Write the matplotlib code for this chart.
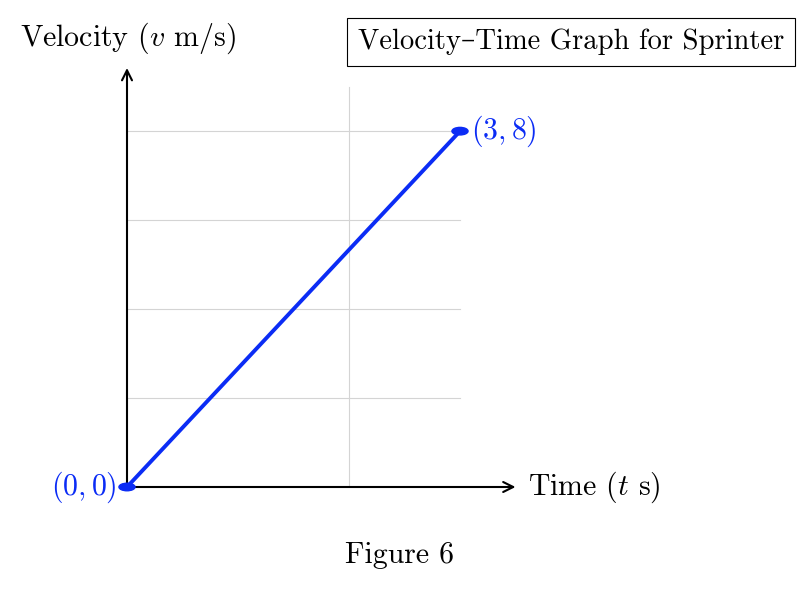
import matplotlib
matplotlib.use("Agg")
import matplotlib.pyplot as plt
from matplotlib.patches import Ellipse

# data
t_vals = [0, 3]
v_vals = [0, 8]
point_labels = ["$(0,0)$", "$(3,8)$"]
grid_x = [2]
grid_y = [2, 4, 6, 8]
grid_xmax = 3
grid_ymax = 9
x_end = 3.5
y_end = 9.42

plt.rcParams['font.family'] = ['cmr10', 'DejaVu Serif']
plt.rcParams['mathtext.fontset'] = 'cm'
plt.rcParams['axes.unicode_minus'] = False

blue = '#0b2cf5'
fs = 21.5

fig = plt.figure(figsize=(8.12, 5.90), dpi=100)
ax = fig.add_axes([127/812, 103/590, 388.5/812, 419/590])
ax.set_xlim(0, x_end)
ax.set_ylim(0, y_end)
ax.axis('off')

# grid
for gy in grid_y:
    ax.plot([0, grid_xmax], [gy, gy], color='#d4d4d4', lw=0.8, zorder=1)
for gx in grid_x:
    ax.plot([gx, gx], [0, grid_ymax], color='#d4d4d4', lw=0.8, zorder=1)

# axes arrows
arrow = dict(arrowstyle='->', color='black', lw=1.5, shrinkA=0, shrinkB=0,
             mutation_scale=18)
ax.annotate('', xy=(x_end, 0), xytext=(0, 0), arrowprops=arrow, annotation_clip=False)
ax.annotate('', xy=(0, y_end), xytext=(0, 0), arrowprops=arrow, annotation_clip=False)

# line
ax.plot(t_vals, v_vals, color=blue, lw=2.8, zorder=3, solid_capstyle='round')
for t, v in zip(t_vals, v_vals):
    ax.add_patch(Ellipse((t, v), 0.145, 0.17, color=blue, zorder=4, clip_on=False))

ax.text(t_vals[0] - 0.09, v_vals[0], point_labels[0], color=blue, fontsize=fs,
        ha='right', va='center', clip_on=False)
ax.text(t_vals[1] + 0.1, v_vals[1], point_labels[1], color=blue, fontsize=fs,
        ha='left', va='center', clip_on=False)

# labels
fig.text(128/812, 1 - 38/590, r'Velocity ($v$ m/s)', fontsize=fs, ha='center', va='center')
fig.text(528/812, 1 - 487/590, r'Time ($t$ s)', fontsize=fs, ha='left', va='center')
fig.text(400/812, 1 - 555/590, 'Figure 6', fontsize=fs, ha='center', va='center')
fig.text(571/812, 1 - 42/590, 'Velocity\u2013Time Graph for Sprinter', fontsize=20.6,
         ha='center', va='center',
         bbox=dict(boxstyle='square,pad=0.38', fc='white', ec='black', lw=0.8))

fig.savefig('out.png', dpi=100)
